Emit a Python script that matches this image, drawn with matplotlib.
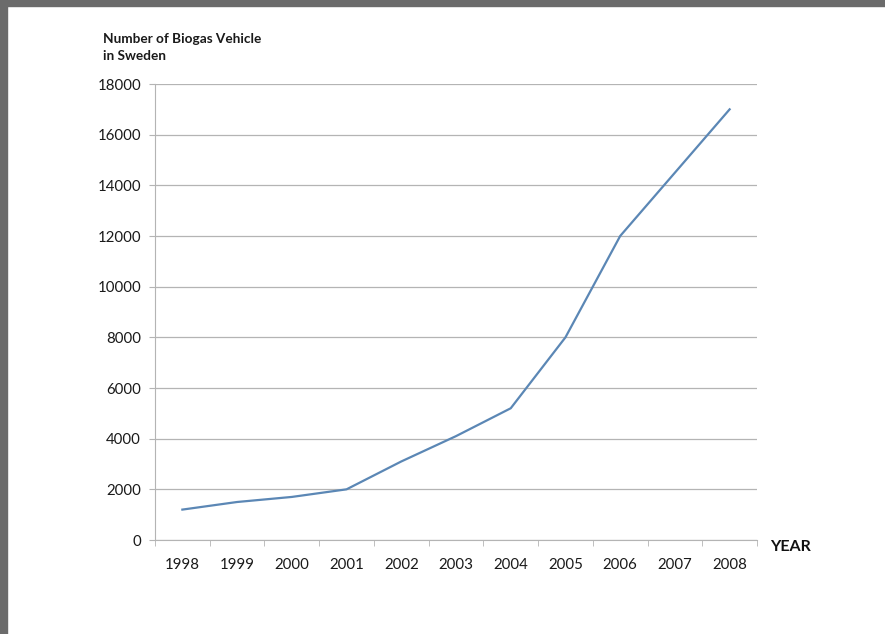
import numpy             as np
import matplotlib.pyplot as plt
from matplotlib.patches import Rectangle

# ========== \Data ========== #
YEARS    = ["1998", "1999", "2000", "2001", "2002", "2003",
            "2004", "2005", "2006", "2007", "2008"]
VEHICLES = [1200, 1500, 1700, 2000, 3100, 4100,
            5200, 8000, 12000, 14500, 17000]
Y_TICKS  = [0, 2000, 4000, 6000, 8000, 10000, 12000, 14000, 16000, 18000]
# ========== /Data ========== #

plt.rcParams['font.family'] = ['Lato', 'DejaVu Sans']

W, H = 885, 634
fig = plt.figure(figsize=(W / 100, H / 100), dpi=100)

# gray screenshot border on top and left
fig.patches.append(Rectangle((0, 1 - 6 / H), 1, 6 / H, transform=fig.transFigure,
                             color="#6b6b6b", zorder=0))
fig.patches.append(Rectangle((0, 0), 7 / W, 1, transform=fig.transFigure,
                             color="#6b6b6b", zorder=0))

ax = fig.add_axes([155 / W, 1 - 540 / H, (757 - 155) / W, (540 - 84) / H])

xs = np.arange(len(YEARS))
ax.plot(xs, VEHICLES, color="#5b87b5", linewidth=1.6, zorder=3)

ax.set_xlim(-0.5, len(YEARS) - 0.5)
ax.set_ylim(0, 18000)

GRID = "#b4b4b4"
for spine in ["top", "right"]:
    ax.spines[spine].set_visible(False)
ax.spines["left"].set_color(GRID)
ax.spines["bottom"].set_color(GRID)

ax.set_yticks(Y_TICKS)
ax.set_yticklabels([str(v) for v in Y_TICKS])
ax.yaxis.grid(True, color=GRID, linewidth=0.9)
ax.set_axisbelow(True)
ax.tick_params(axis="y", length=4, color=GRID, pad=6, labelsize=10.8, labelcolor="#1a1a1a")

# category labels at centers, tick marks between categories
ax.set_xticks(xs)
ax.set_xticklabels(YEARS)
ax.set_xticks(np.arange(-0.5, len(YEARS)), minor=True)
ax.tick_params(axis="x", which="major", length=0, pad=13, labelsize=10.8, labelcolor="#1a1a1a")
ax.tick_params(axis="x", which="minor", length=4, color=GRID)

fig.text(103 / W, 1 - 47.5 / H, "Number of Biogas Vehicle\nin Sweden", fontsize=9.8,
         fontweight="bold", color="#1a1a1a", va="center", ha="left", linespacing=1.5)
fig.text(770 / W, 1 - 547 / H, "YEAR", fontsize=11.5, fontweight="bold",
         color="#111111", va="center", ha="left")

fig.savefig("out.png", dpi=100)
